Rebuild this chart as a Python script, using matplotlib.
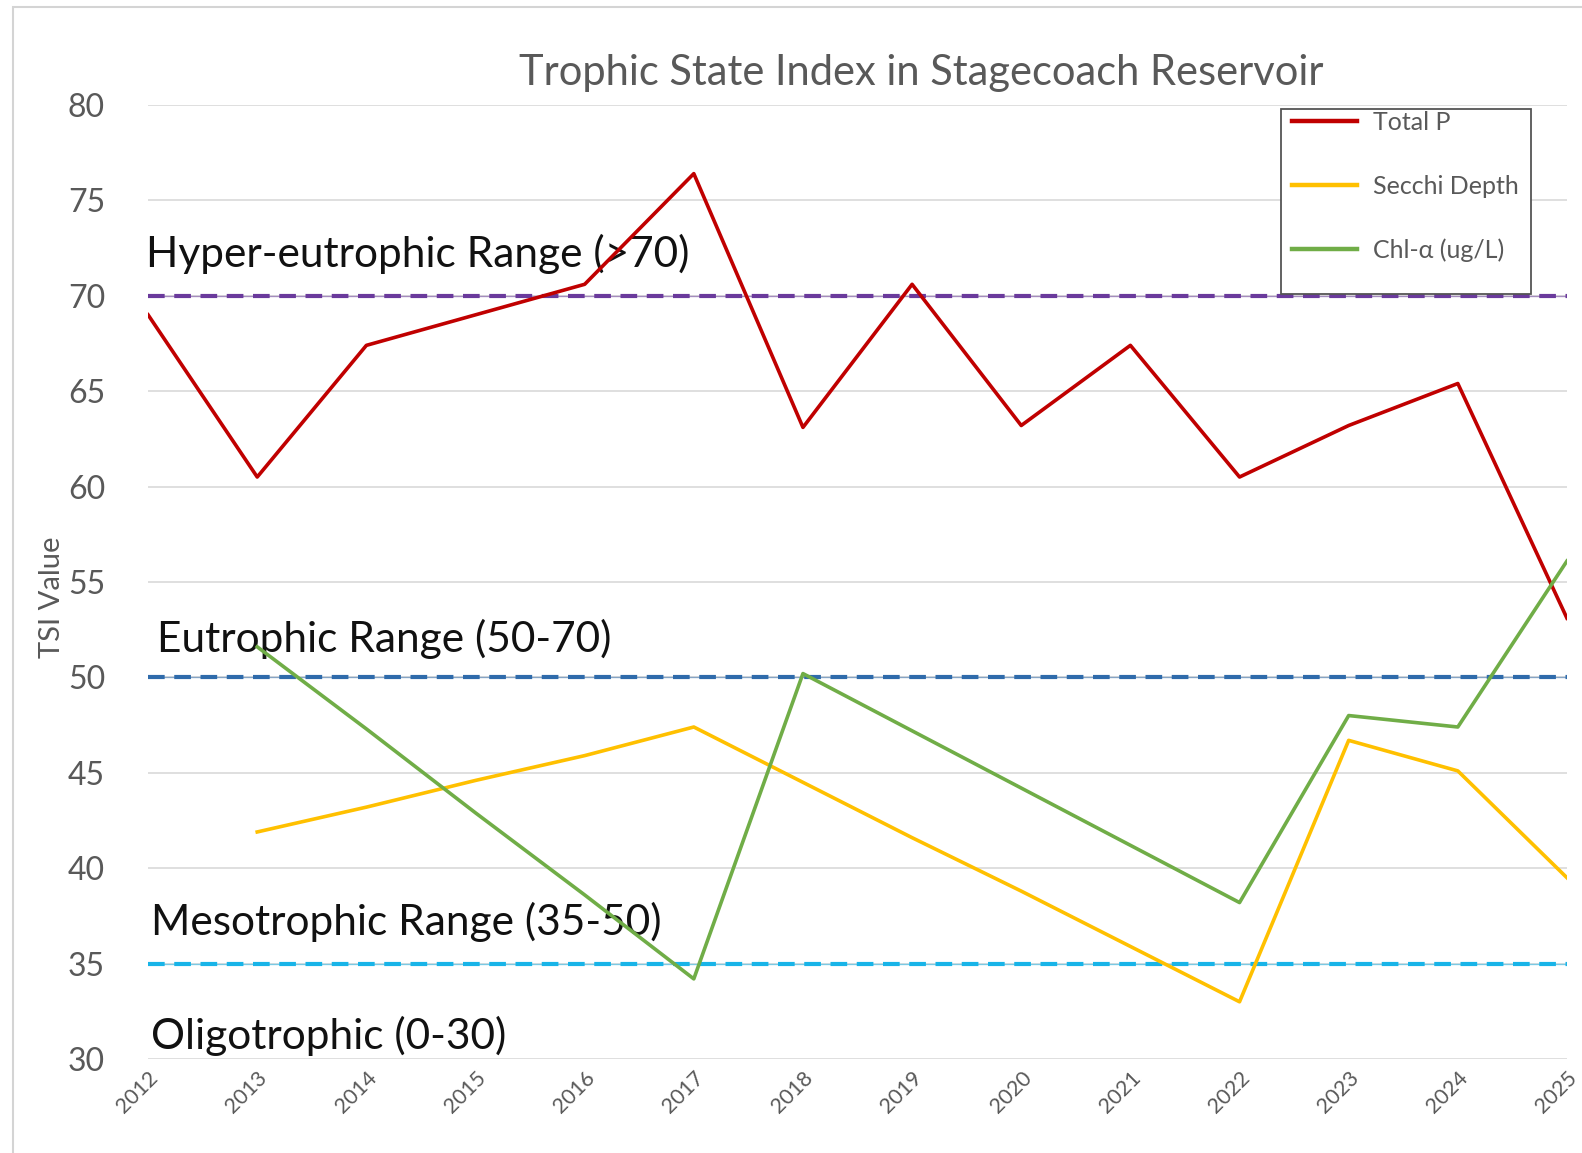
import matplotlib.pyplot as plt
from matplotlib.patches import Rectangle

years = list(range(2012, 2026))
total_p = [69.0, 60.5, 67.4, 69.0, 70.6, 76.4, 63.1, 70.6, 63.2, 67.4, 60.5, 63.2, 65.4, 53.1]
secchi_years = list(range(2013, 2026))
secchi = [41.9, 43.2, 44.6, 45.9, 47.4, 44.5, 41.6, 38.8, 35.9, 33.0, 46.7, 45.1, 39.5]
chl_years = list(range(2013, 2026))
chl = [51.6, 47.3, 42.9, 38.6, 34.2, 50.2, 47.2, 44.2, 41.2, 38.2, 48.0, 47.4, 56.1]

ranges = [70, 50, 35]
range_colors = ['#6a3a9c', '#2f6bab', '#18b4e8']
range_labels = ['Hyper-eutrophic Range (>70)', 'Eutrophic Range (50-70)',
                'Mesotrophic Range (35-50)', 'Oligotrophic (0-30)']
label_y = [72.2, 52.0, 37.2, 31.2]
label_x = [2011.98, 2012.08, 2012.03, 2012.03]

plt.rcParams['font.family'] = ['Lato', 'DejaVu Sans']
gray = '#595959'

fig = plt.figure(figsize=(15.82, 11.53), dpi=100)
ax = fig.add_axes([0.0936, 0.0815, 0.8969, 0.8275])

# outer chart border
fig.patches.append(Rectangle((13 / 1582, -0.2), 1.2, 1.2 - 7 / 1153, transform=fig.transFigure,
                             fill=False, edgecolor='#d4d4d4', lw=1.5))

ax.set_xlim(2012, 2025)
ax.set_ylim(30, 80)
ax.set_yticks(range(30, 81, 5))
ax.set_xticks(years)
ax.grid(axis='y', color='#d9d9d9', lw=1.2)
ax.set_axisbelow(True)
for s in ax.spines.values():
    s.set_visible(False)
ax.tick_params(length=0)
ax.tick_params(axis='y', labelsize=23, labelcolor=gray, pad=31)
ax.tick_params(axis='x', labelsize=15.5, labelcolor=gray, pad=6)
for lab in ax.get_xticklabels():
    lab.set_rotation(45)
    lab.set_ha('right')
    lab.set_va('top')
    lab.set_rotation_mode('anchor')

for v, c in zip(ranges, range_colors):
    ax.axhline(v, color=c, lw=1, alpha=0.5, zorder=1)
    ax.axhline(v, color=c, lw=3, dashes=(4, 2.3), zorder=1)

for t, x, y in zip(range_labels, label_x, label_y):
    ax.text(x, y, t, fontsize=30.5, color='#111111', va='center', ha='left')

ax.plot(years, total_p, color='#c00000', lw=2.6, label='Total P', zorder=3)
ax.plot(secchi_years, secchi, color='#ffc000', lw=2.6, label='Secchi Depth', zorder=3)
ax.plot(chl_years, chl, color='#70ad47', lw=2.6, label='Chl-α (ug/L)', zorder=3)

ax.set_title('Trophic State Index in Stagecoach Reservoir', fontsize=30, color=gray,
             x=0.545, pad=14)
ax.set_ylabel('TSI Value', fontsize=21, color=gray, labelpad=2, y=0.484)

# legend box drawn separately so it can extend below the entries
ax.add_patch(Rectangle((0.7987, 0.8023), 0.1757, 0.1935, transform=ax.transAxes,
                       facecolor='white', edgecolor='#555555', lw=1.3, zorder=4))
leg = ax.legend(loc='upper left', bbox_to_anchor=(0.806, 0.9935), fontsize=18,
                labelspacing=1.62, handlelength=2.6, handletextpad=0.65,
                borderpad=0, borderaxespad=0, frameon=False)
leg.set_zorder(5)
for line in leg.get_lines():
    line.set_linewidth(3.2)
for t in leg.get_texts():
    t.set_color(gray)

fig.savefig('out.png', dpi=100)
